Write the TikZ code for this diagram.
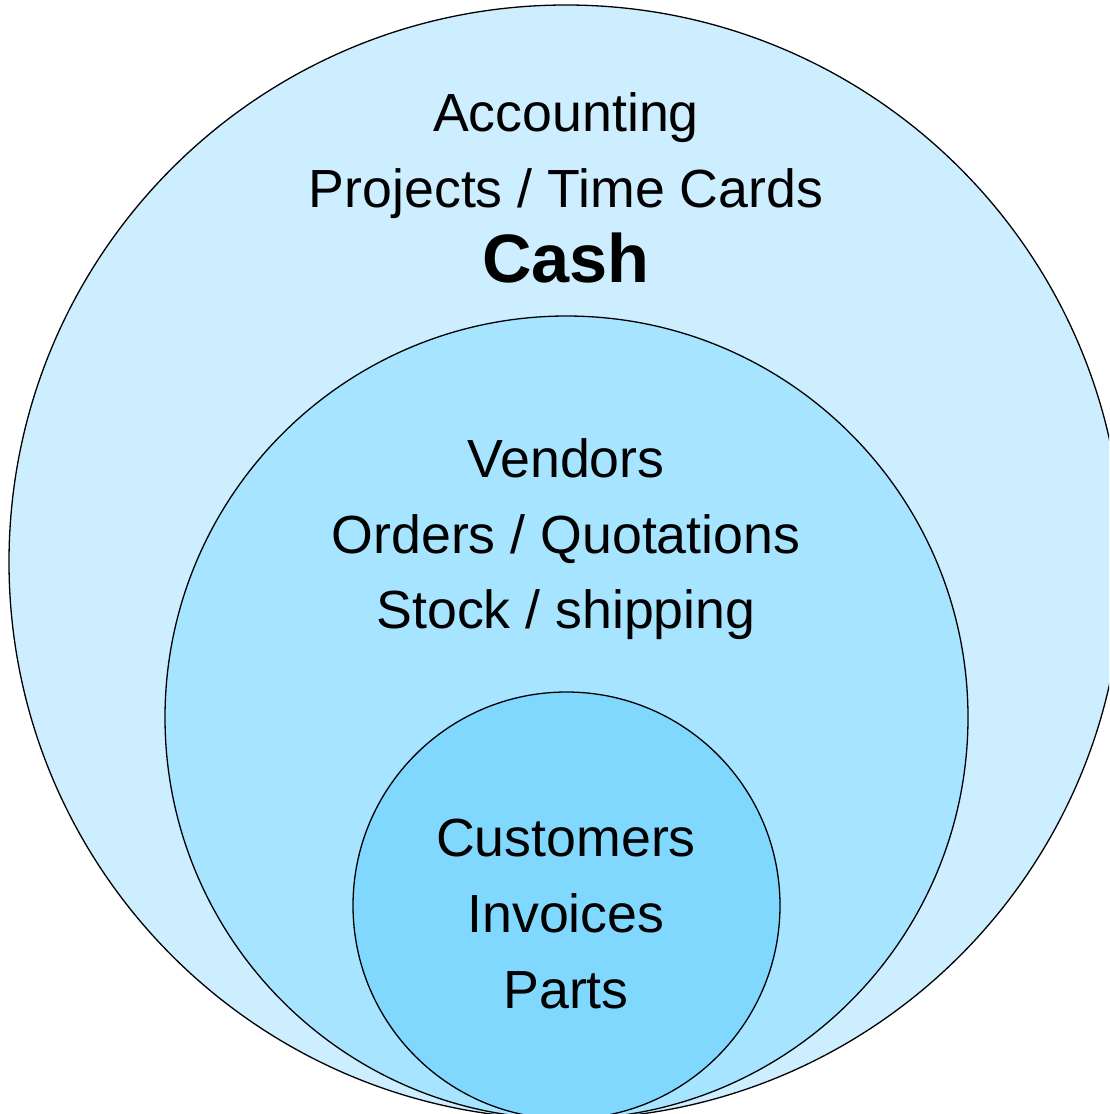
\documentclass[tikz,border=0pt]{standalone}
\usepackage{fontspec}
\setmainfont{Liberation Sans}
\definecolor{outerc}{HTML}{CCEEFF}
\definecolor{midc}{HTML}{A6E4FF}
\definecolor{innerc}{HTML}{80D8FF}
\begin{document}
\begin{tikzpicture}[x=1pt,y=-1pt,
  ring/.style={draw=black,line width=1.3pt},
  lbl/.style={anchor=base,inner sep=0pt,font=\fontsize{53.7}{60}\selectfont},
  big/.style={anchor=base,inner sep=0pt,font=\fontsize{68.5}{72}\selectfont\bfseries}]
\useasboundingbox (0,0) rectangle (1109,1114);
\clip (0,0) rectangle (1109,1114);
\fill[white] (0,0) rectangle (1109,1114);
\draw[ring,fill=outerc] (566,562) circle[radius=557];
\draw[ring,fill=midc] (566.5,717.5) circle[radius=401.5];
\draw[ring,fill=innerc] (566.5,905.5) circle[radius=213.5];
\node[lbl] (acc) at (566,131) {Accounting};
\node[lbl] (proj) at (566,207) {Projects / Time Cards};
\node[big] (cash) at (566,282) {Cash};
\node[lbl] (vend) at (566,477) {Vendors};
\node[lbl] (ord) at (566,553) {Orders / Quotations};
\node[lbl] (stock) at (566,628) {Stock / shipping};
\node[lbl] (cust) at (566,856) {Customers};
\node[lbl] (inv) at (566,932) {Invoices};
\node[lbl] (parts) at (566,1008) {Parts};
\end{tikzpicture}
\end{document}
